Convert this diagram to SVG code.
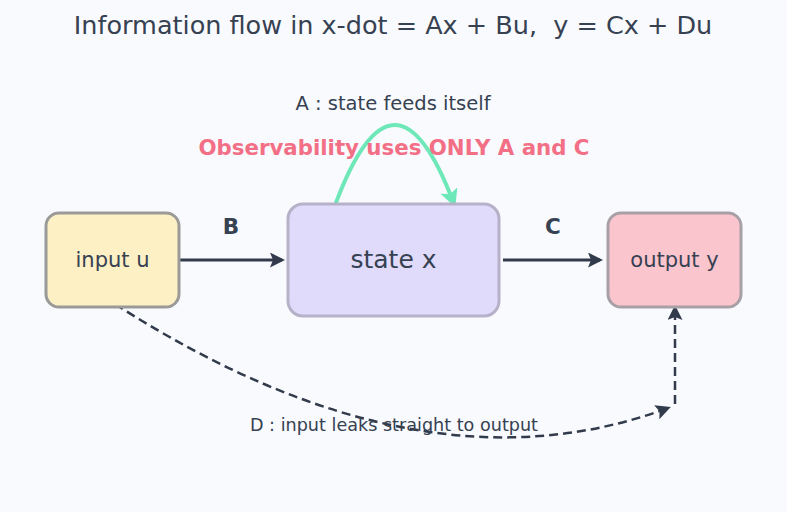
<svg xmlns="http://www.w3.org/2000/svg" width="787" height="512" viewBox="0 0 787 512">
<style>
text{font-family:"DejaVu Sans",Verdana,sans-serif;fill:#364152}
.node{stroke-width:3}
.lbl{font-size:21px;text-anchor:middle}
.edge{fill:none;stroke:#323b4c;stroke-width:3}
.dash{fill:none;stroke:#323b4c;stroke-width:2.5;stroke-dasharray:9,5}
</style>
<defs>
<marker id="ah" viewBox="0 0 10 10" refX="8" refY="5" markerWidth="5" markerHeight="5" orient="auto" markerUnits="strokeWidth"><path d="M0,0 L10,5 L0,10 L2,5 z" fill="#323b4c"/></marker>
<marker id="ahd" viewBox="0 0 10 10" refX="8" refY="5" markerWidth="6" markerHeight="6" orient="auto" markerUnits="strokeWidth"><path d="M0,0 L10,5 L0,10 L2,5 z" fill="#323b4c"/></marker>
<marker id="ahg" viewBox="0 0 10 10" refX="8" refY="5" markerWidth="4.5" markerHeight="4.5" orient="auto" markerUnits="strokeWidth"><path d="M0,0 L10,5 L0,10 L2,5 z" fill="#6ee7b9"/></marker>
</defs>
<rect width="787" height="512" fill="#f9fafd"/>
<text x="393" y="34" font-size="25.5" text-anchor="middle" xml:space="preserve" style="white-space:pre">Information flow in x-dot = Ax + Bu,  y = Cx + Du</text>
<g id="connectors">
<path class="edge" d="M177,260 L282,260" marker-end="url(#ah)"/>
<path class="edge" d="M503,260 L600,260" marker-end="url(#ah)"/>
<path d="M334,208 Q394,44 454,204" fill="none" stroke="#6ee7b9" stroke-width="4" marker-end="url(#ahg)"/>
<path class="dash" d="M115,304 Q420,500 668,408" marker-end="url(#ahd)"/>
<path class="dash" d="M675,404 L675,308" marker-end="url(#ahd)"/>
</g>
<g id="input_u"><rect class="node" x="46" y="213" width="133" height="94" rx="13" fill="#fdf0c5" stroke="#9a9a98"/><text class="lbl" x="112.5" y="267">input u</text></g>
<g id="state_x"><rect class="node" x="288" y="204" width="211" height="112" rx="15" fill="#e0dbfa" stroke="#b6b1c8"/><text class="lbl" x="393.5" y="268" style="font-size:25px">state x</text></g>
<g id="output_y"><rect class="node" x="608" y="213" width="133" height="94" rx="13" fill="#fbc5cd" stroke="#a8a0a6"/><text class="lbl" x="674.5" y="267">output y</text></g>
<text x="393" y="110" font-size="19.5" text-anchor="middle">A : state feeds itself</text>
<text x="394" y="155" font-size="21.3" font-weight="bold" text-anchor="middle" style="fill:#f26f86">Observability uses ONLY A and C</text>
<text x="231" y="234" font-size="21.5" font-weight="bold" text-anchor="middle">B</text>
<text x="553" y="234" font-size="21.5" font-weight="bold" text-anchor="middle">C</text>
<text x="394" y="431" font-size="17.6" text-anchor="middle">D : input leaks straight to output</text>
</svg>
